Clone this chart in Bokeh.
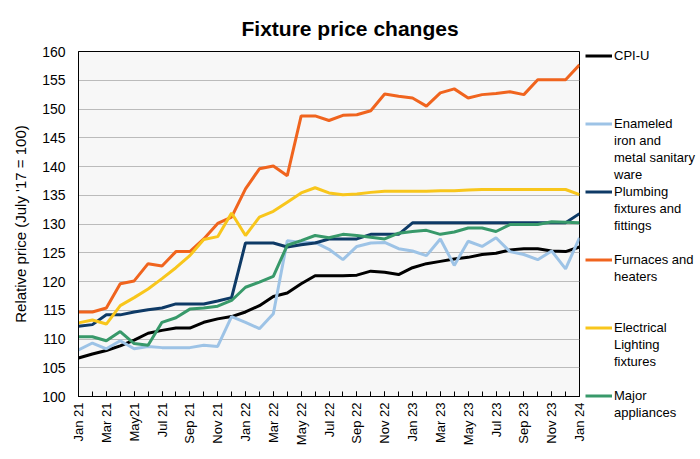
from bokeh.plotting import figure
from bokeh.models import FixedTicker, ColumnDataSource, Legend, LegendItem
from bokeh.embed import file_html
from bokeh.resources import INLINE
import math

# ---------------- data ----------------
months = list(range(37))  # Jan 21 .. Jan 24
tick_labels = ["Jan 21", "Mar 21", "May21", "Jul 21", "Sep 21", "Nov 21",
               "Jan 22", "Mar 22", "May 22", "Jul 22", "Sep 22", "Nov 22",
               "Jan 23", "Mar 23", "May 23", "Jul 23", "Sep 23", "Nov 23", "Jan 24"]

cpi_u = [106.7, 107.4, 108.0, 108.8, 109.8, 111.0, 111.5, 111.9, 111.9, 112.9, 113.5, 113.9,
         114.7, 115.8, 117.4, 118.0, 119.6, 121.0, 121.0, 121.0, 121.1, 121.8, 121.6, 121.2,
         122.4, 123.1, 123.5, 123.9, 124.2, 124.7, 124.9, 125.5, 125.7, 125.7, 125.3, 125.2, 126.0]
enameled = [108.1, 109.3, 108.3, 109.7, 108.3, 108.7, 108.5, 108.5, 108.5, 108.9, 108.7, 113.9,
            112.9, 111.8, 114.4, 127.1, 126.8, 126.8, 125.6, 123.8, 126.1, 126.7, 126.8, 125.7,
            125.3, 124.5, 127.4, 122.8, 127.0, 126.1, 127.6, 125.2, 124.7, 123.8, 125.3, 122.2, 127.6]
plumbing = [112.2, 112.5, 114.2, 114.2, 114.7, 115.1, 115.4, 116.1, 116.1, 116.1, 116.6, 117.2,
            126.7, 126.7, 126.7, 126.0, 126.4, 126.7, 127.4, 127.4, 127.4, 128.2, 128.2, 128.2,
            130.2, 130.2, 130.2, 130.2, 130.2, 130.2, 130.2, 130.2, 130.2, 130.2, 130.2, 130.2, 131.8]
furnaces = [114.7, 114.7, 115.4, 119.6, 120.1, 123.1, 122.7, 125.2, 125.2, 127.4, 130.1, 131.2,
            136.1, 139.6, 140.1, 138.4, 148.8, 148.8, 148.0, 148.9, 149.0, 149.7, 152.6, 152.2,
            151.9, 150.5, 152.8, 153.5, 151.9, 152.5, 152.7, 153.0, 152.5, 155.1, 155.1, 155.1, 157.7]
electrical = [112.8, 113.3, 112.6, 115.8, 117.2, 118.7, 120.5, 122.4, 124.5, 127.3, 127.8, 131.9,
              128.0, 131.2, 132.2, 133.8, 135.4, 136.3, 135.4, 135.1, 135.2, 135.5, 135.7, 135.7,
              135.7, 135.7, 135.8, 135.8, 135.9, 136.0, 136.0, 136.0, 136.0, 136.0, 136.0, 136.0, 135.1]
major = [110.4, 110.4, 109.7, 111.3, 109.2, 108.9, 112.9, 113.7, 115.2, 115.4, 115.7, 116.7,
         119.0, 119.9, 120.9, 126.3, 127.1, 128.0, 127.6, 128.2, 128.0, 127.7, 127.4, 128.4,
         128.7, 128.9, 128.2, 128.6, 129.3, 129.3, 128.7, 129.9, 129.9, 129.9, 130.4, 130.3, 130.2]

series_names = [["CPI-U"],
                ["Enameled", "iron and", "metal sanitary", "ware"],
                ["Plumbing", "fixtures and", "fittings"],
                ["Furnaces and", "heaters"],
                ["Electrical", "Lighting", "fixtures"],
                ["Major", "appliances"]]
series_values = [cpi_u, enameled, plumbing, furnaces, electrical, major]
colors = ["#000000", "#9DC3E6", "#0E3A66", "#F0641E", "#F8C61C", "#38996A"]

FONT = "Liberation Sans"

p = figure(frame_width=501, frame_height=345, x_range=(0, 36), y_range=(100, 160),
           output_backend="svg", toolbar_location=None,
           min_border_left=78, min_border_right=121, min_border_top=51, min_border_bottom=63)

p.background_fill_color = "#F7F7F7"
p.border_fill_color = "white"
p.outline_line_color = "black"
p.outline_line_width = 1

p.title.text = "Fixture price changes"
p.title.align = "left"
p.title.offset = 163
p.title.text_font = FONT
p.title.text_font_size = "21px"
p.title.text_font_style = "bold"
p.title.text_color = "black"
p.title.standoff = 23

# axes
p.xaxis.ticker = FixedTicker(ticks=months[::2], minor_ticks=months)
p.xaxis.major_label_overrides = {m: lab for m, lab in zip(months[::2], tick_labels)}
p.xaxis.major_label_orientation = math.pi / 2
p.xaxis.major_tick_in = 5
p.xaxis.major_tick_out = 0
p.xaxis.minor_tick_in = 5
p.xaxis.minor_tick_out = 0
p.xaxis.major_label_standoff = 6
p.xaxis.major_label_text_font = FONT
p.xaxis.major_label_text_font_size = "13px"
p.xaxis.major_label_text_color = "black"
p.xaxis.axis_line_color = "black"
p.xaxis.major_tick_line_color = "black"
p.xaxis.minor_tick_line_color = "black"

p.yaxis.ticker = FixedTicker(ticks=list(range(100, 161, 5)))
p.yaxis.major_tick_in = 0
p.yaxis.major_tick_out = 0
p.yaxis.minor_tick_line_color = None
p.yaxis.major_label_standoff = 13
p.yaxis.major_label_text_font = FONT
p.yaxis.major_label_text_font_size = "14px"
p.yaxis.major_label_text_color = "black"
p.yaxis.axis_label = "Relative price (July '17 = 100)"
p.yaxis.axis_label_text_font = FONT
p.yaxis.axis_label_text_font_size = "15px"
p.yaxis.axis_label_text_font_style = "normal"
p.yaxis.axis_label_text_color = "black"
p.yaxis.axis_label_standoff = 10
p.yaxis.axis_line_color = "black"

p.xgrid.grid_line_color = None
p.ygrid.grid_line_color = "#BBBBBB"
p.ygrid.grid_line_width = 1

renderers = []
for vals, col in zip(series_values, colors):
    src = ColumnDataSource(dict(x=months, y=vals))
    renderers.append(p.line("x", "y", source=src, line_color=col, line_width=3))

# invisible renderer used for continuation / spacer rows of the legend
blank = p.line(x=[], y=[], line_alpha=0)

ROWS_PER_ENTRY = 4
items = []
for r, names in zip(renderers, series_names):
    rows = list(names) + [" "] * (ROWS_PER_ENTRY - len(names))
    for j, t in enumerate(rows):
        items.append(LegendItem(label=t, renderers=[r] if j == 0 else [blank]))
items = items[:-(ROWS_PER_ENTRY - len(series_names[-1]))]

ROW_H = 17
n_rows = len(items)
legend_top = 55 - ROW_H / 2       # centre of first row at y=55 (canvas px)
frame_bottom = 51 + 345
legend = Legend(items=items, location=(6, frame_bottom - legend_top - n_rows * ROW_H),
                orientation="vertical", margin=0, padding=0, spacing=0,
                label_height=ROW_H, glyph_height=ROW_H, glyph_width=27, label_standoff=2,
                label_text_font=FONT, label_text_font_size="13px", label_text_color="black",
                border_line_color=None, background_fill_alpha=0)
p.add_layout(legend, "right")

open("out.html", "w").write(file_html(p, INLINE))
